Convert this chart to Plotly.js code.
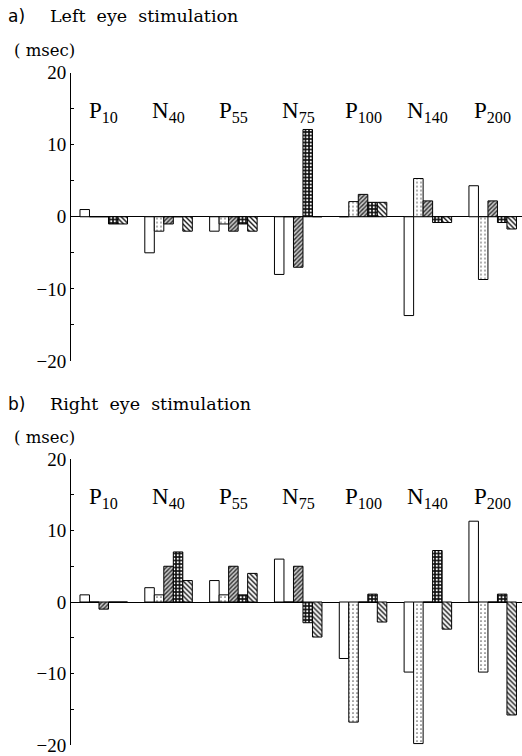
<!DOCTYPE html>
<html>
<head>
<meta charset="utf-8">
<script src="https://cdn.plot.ly/plotly-3.0.1.min.js"></script>
<style>html,body{margin:0;padding:0;background:#fff;}#chart{width:522px;height:756px;}</style>
</head>
<body>
<div id="chart"></div>
<script>
// ---- data ----
const categories = ['P10', 'N40', 'P55', 'N75', 'P100', 'N140', 'P200'];
const seriesNames = ['Series 1', 'Series 2', 'Series 3', 'Series 4', 'Series 5'];

// a) Left eye stimulation (msec)
const leftS1 = [1, -5, -2, -8, 0, -13.7, 4.3];
const leftS2 = [0, -2, -1, 0, 2.1, 5.3, -8.7];
const leftS3 = [0, -1, -2, -7, 3.1, 2.2, 2.2];
const leftS4 = [-1, 0, -1, 12.1, 2, -0.8, -0.8];
const leftS5 = [-1, -2, -2, 0, 2, -0.8, -1.7];

// b) Right eye stimulation (msec)
const rightS1 = [1, 2, 3, 6, -7.9, -9.8, 11.3];
const rightS2 = [0, 1, 1, 0, -16.8, -19.8, -9.8];
const rightS3 = [-1, 5, 5, 5, 0, 0, 0];
const rightS4 = [0, 7, 1, -2.9, 1.1, 7.2, 1.1];
const rightS5 = [0, 3, 4, -4.9, -2.8, -3.8, -15.8];

const yTickVals = [-20, -15, -10, -5, 0, 5, 10, 15, 20];
const yTickText = ['\u221220', '', '\u221210', '', '0', '', '10', '', '20'];

// ---- styles ----
const W = 522, H = 756;
const serif = 'Liberation Serif, DejaVu Serif, serif';
const patterns = [
  {shape: '', bgcolor: 'white'},
  {shape: '.', fgcolor: '#666', bgcolor: 'white', size: 4, solidity: 0.15, fillmode: 'replace'},
  {shape: '/', fgcolor: '#333', bgcolor: '#c8c8c8', size: 3, solidity: 0.45, fillmode: 'replace'},
  {shape: '.', fgcolor: 'white', bgcolor: '#111', size: 3.5, solidity: 0.3, fillmode: 'replace'},
  {shape: '\\', fgcolor: '#111', bgcolor: 'white', size: 3.5, solidity: 0.4, fillmode: 'replace'}
];

const leftData = [leftS1, leftS2, leftS3, leftS4, leftS5];
const rightData = [rightS1, rightS2, rightS3, rightS4, rightS5];

function mkTraces(arrs, xa, ya) {
  return arrs.map((vals, i) => ({
    type: 'bar', x: categories, y: vals, name: seriesNames[i],
    xaxis: xa, yaxis: ya, showlegend: false,
    marker: {
      color: 'white',
      pattern: patterns[i].shape ? patterns[i] : undefined,
      line: {color: 'black', width: 1}
    },
    hoverinfo: 'x+y'
  }));
}

const traces = mkTraces(leftData, 'x', 'y').concat(mkTraces(rightData, 'x2', 'y2'));

const xLeft = 71 / W;
function xAx(anchor) {
  return {domain: [xLeft, 1], anchor: anchor, type: 'category', range: [-0.505, 6.452],
    showticklabels: false, showgrid: false, showline: false, zeroline: false, ticks: '', fixedrange: true};
}
function yAx(anchor, top, bottom) {
  return {domain: [(H - bottom) / H, (H - top) / H], anchor: anchor, range: [-20, 20],
    tickmode: 'array', tickvals: yTickVals, ticktext: yTickText,
    ticks: 'inside', ticklen: 3, tickcolor: 'black', tickwidth: 1,
    showline: true, linecolor: 'black', linewidth: 1,
    zeroline: true, zerolinecolor: 'black', zerolinewidth: 1,
    ticklabeloverflow: 'allow',
    showgrid: false, tickfont: {family: serif, size: 19, color: 'black'}, fixedrange: true};
}

function catLabel(c) {
  const m = c.match(/^([A-Z]+)(\d+)$/);
  return m[1] + '<sub>' + m[2] + '</sub>';
}

const annotations = [];
[['x', 'y'], ['x2', 'y2']].forEach(([xa, ya]) => {
  categories.forEach(c => annotations.push({
    xref: xa, yref: ya, x: c, y: 14.5, text: catLabel(c), showarrow: false,
    font: {family: serif, size: 23, color: 'black'}, xanchor: 'center', yanchor: 'middle'
  }));
});

function px(x) { return x / W; }
function py(y) { return (H - y) / H; }
const txt = (x, y, text, font, anchor) => ({xref: 'paper', yref: 'paper', x: px(x), y: py(y), text: text,
  showarrow: false, xanchor: anchor || 'left', yanchor: 'middle', font: font});
const titleFont = {family: 'DejaVu Serif, serif', size: 17.5, color: 'black'};
const labFont = {family: 'DejaVu Sans, sans-serif', size: 17, color: 'black'};
const unitFont = {family: 'DejaVu Serif, serif', size: 16.5, color: 'black'};
annotations.push(txt(6, 16, 'a)', labFont));
annotations.push(txt(48, 16, 'Left  eye  stimulation', titleFont));
annotations.push(txt(12, 51, '( msec)', unitFont));
annotations.push(txt(6, 404, 'b)', labFont));
annotations.push(txt(48, 404, 'Right  eye  stimulation', titleFont));
annotations.push(txt(12, 438, '( msec)', unitFont));

const layout = {
  width: W, height: H,
  margin: {l: 0, r: 0, t: 0, b: 0},
  paper_bgcolor: 'white', plot_bgcolor: 'white',
  barmode: 'group', bargap: 0.267, bargroupgap: 0,
  xaxis: xAx('y'), yaxis: yAx('x', 72.5, 361),
  xaxis2: xAx('y2'), yaxis2: yAx('x2', 459, 745),
  annotations: annotations,
  showlegend: false,
  font: {family: serif, color: 'black'}
};

Plotly.newPlot('chart', traces, layout, {displayModeBar: false, staticPlot: true});
</script>
</body>
</html>
